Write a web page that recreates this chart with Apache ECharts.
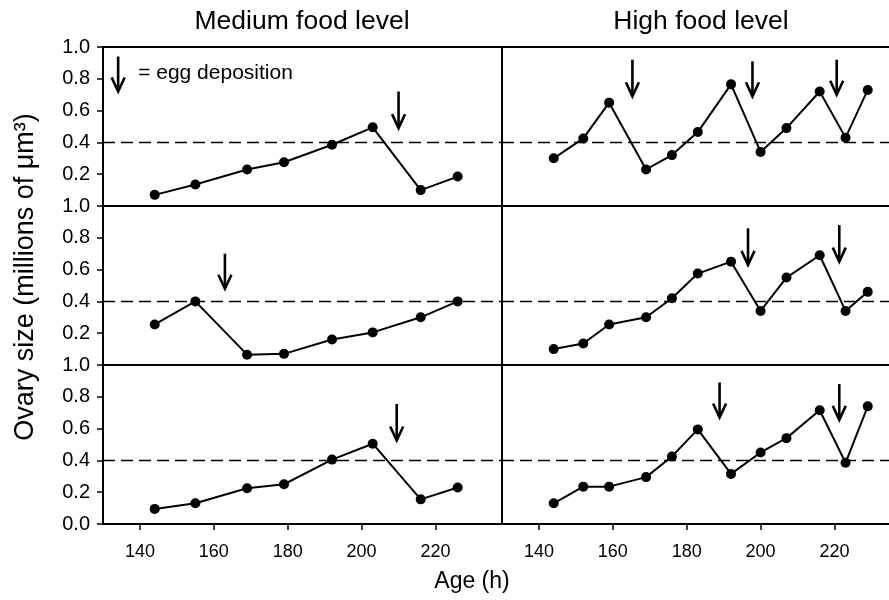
<!DOCTYPE html>
<html>
<head>
<meta charset="utf-8">
<script src="https://cdn.jsdelivr.net/npm/echarts@6/dist/echarts.min.js"></script>
<style>
  html, body { margin: 0; padding: 0; background: #fff; }
  #chart { width: 889px; height: 600px; }
</style>
</head>
<body>
<div id="chart"></div>
<script>
// Sampling ages (h)
const agesMedium = [144, 155, 169, 179, 192, 203, 216, 226];
const agesHigh = [144, 152, 159, 169, 176, 183, 192, 200, 207, 216, 223, 229];

// Ovary size (millions of µm³), three individuals per food level
const mediumA = [0.07, 0.135, 0.23, 0.275, 0.385, 0.495, 0.10, 0.185];
const mediumB = [0.255, 0.40, 0.065, 0.07, 0.16, 0.205, 0.30, 0.40];
const mediumC = [0.095, 0.13, 0.225, 0.25, 0.405, 0.505, 0.155, 0.23];
const highA = [0.30, 0.425, 0.65, 0.23, 0.32, 0.465, 0.765, 0.34, 0.49, 0.72, 0.43, 0.73];
const highB = [0.10, 0.135, 0.255, 0.30, 0.42, 0.575, 0.65, 0.34, 0.55, 0.69, 0.34, 0.46];
const highC = [0.13, 0.235, 0.235, 0.295, 0.425, 0.595, 0.315, 0.45, 0.54, 0.715, 0.385, 0.74];

// Egg deposition events: [age, arrow top, arrow tip]
const eggsMediumA = [[210, 0.72, 0.49]];
const eggsMediumB = [[163, 0.70, 0.48]];
const eggsMediumC = [[209.5, 0.755, 0.525]];
const eggsHighA = [[165.3, 0.92, 0.69], [197.8, 0.91, 0.69], [220.6, 0.92, 0.70]];
const eggsHighB = [[196.6, 0.86, 0.63], [221.3, 0.88, 0.65]];
const eggsHighC = [[188.9, 0.89, 0.67], [221.3, 0.88, 0.655]];
const keyArrow = [[134.1, 0.94, 0.72]];

const xTicks = [140, 160, 180, 200, 220];
const yTicksFull = [0, 0.2, 0.4, 0.6, 0.8, 1.0];
const yTicksUpper = [0.2, 0.4, 0.6, 0.8, 1.0];
const threshold = 0.4;

const FONT = '"Liberation Sans", Arial, Helvetica, sans-serif';

const panels = [
  { col: 0, row: 0, ages: agesMedium, vals: mediumA, eggs: eggsMediumA, key: true },
  { col: 0, row: 1, ages: agesMedium, vals: mediumB, eggs: eggsMediumB },
  { col: 0, row: 2, ages: agesMedium, vals: mediumC, eggs: eggsMediumC },
  { col: 1, row: 0, ages: agesHigh, vals: highA, eggs: eggsHighA },
  { col: 1, row: 1, ages: agesHigh, vals: highB, eggs: eggsHighB },
  { col: 1, row: 2, ages: agesHigh, vals: highC, eggs: eggsHighC }
];

// Column layout: the right column runs off the page edge
const cols = [
  { left: 103, width: 399, max: 238 },
  { left: 502, width: 387, max: 234.76 }
];
const gridTop = [47, 206, 365];
const gridH = 159;
const AXIS_LINE = { show: true, onZero: false, lineStyle: { color: '#000', width: 2 } };

function arrowItem(params, api) {
  const p1 = api.coord([api.value(0), api.value(1)]);
  const p2 = api.coord([api.value(0), api.value(2)]);
  return {
    type: 'group',
    children: [
      { type: 'line', shape: { x1: p1[0], y1: p1[1], x2: p2[0], y2: p2[1] - 1 },
        style: { stroke: '#000', lineWidth: 2.6 } },
      { type: 'polyline',
        shape: { points: [[p2[0] - 6.5, p2[1] - 14], [p2[0], p2[1]], [p2[0] + 6.5, p2[1] - 14]] },
        style: { stroke: '#000', fill: null, lineWidth: 2.6, lineJoin: 'miter' } }
    ]
  };
}

function keyItem(params, api) {
  const g = arrowItem(params, api);
  const p1 = api.coord([api.value(0), api.value(1)]);
  const p2 = api.coord([api.value(0), api.value(2)]);
  g.children.push({
    type: 'text',
    style: {
      text: '= egg deposition', x: p1[0] + 20, y: (p1[1] + p2[1]) / 2 - 1,
      font: '21px ' + FONT, fill: '#000', textAlign: 'left', textVerticalAlign: 'middle'
    }
  });
  return g;
}

const grid = [], xAxis = [], yAxis = [], series = [];
panels.forEach((p, i) => {
  const c = cols[p.col];
  const bottomRow = p.row === 2;
  grid.push({ left: c.left, top: gridTop[p.row], width: c.width, height: gridH, show: false });
  xAxis.push({
    type: 'value', gridIndex: i, min: 130, max: c.max, position: 'bottom',
    axisLine: AXIS_LINE,
    splitLine: { show: false },
    axisTick: { show: bottomRow, customValues: xTicks, length: 6,
      lineStyle: { color: '#000', width: 1.5 } },
    axisLabel: { show: bottomRow, customValues: xTicks, margin: 19,
      fontFamily: FONT, fontSize: 18, color: '#000' }
  });
  const yVals = bottomRow ? yTicksFull : yTicksUpper;
  yAxis.push({
    type: 'value', gridIndex: i, min: 0, max: 1,
    axisLine: AXIS_LINE,
    splitLine: { show: false },
    axisTick: { show: p.col === 0, customValues: yVals, length: 6,
      lineStyle: { color: '#000', width: 1.5 } },
    axisLabel: { show: p.col === 0, customValues: yVals, margin: 13,
      fontFamily: FONT, fontSize: 20, color: '#000',
      formatter: v => v.toFixed(1) }
  });
  series.push({
    type: 'line', xAxisIndex: i, yAxisIndex: i,
    data: p.ages.map((a, k) => [a, p.vals[k]]),
    symbol: 'circle', symbolSize: 10,
    lineStyle: { color: '#000', width: 2 },
    itemStyle: { color: '#000' },
    animation: false, silent: true,
    markLine: {
      silent: true, symbol: 'none', label: { show: false },
      lineStyle: { color: '#000', width: 1.3, type: [12, 6] },
      data: [{ yAxis: threshold }]
    }
  });
  series.push({
    type: 'custom', xAxisIndex: i, yAxisIndex: i,
    data: p.eggs, renderItem: arrowItem, animation: false, silent: true
  });
  if (p.key) {
    series.push({
      type: 'custom', xAxisIndex: i, yAxisIndex: i,
      data: keyArrow, renderItem: keyItem, animation: false, silent: true
    });
  }
});

// Top frame lines of the upper panels
[0, 3].forEach(gi => {
  xAxis.push({
    type: 'value', gridIndex: gi, min: 130, max: cols[gi === 0 ? 0 : 1].max, position: 'top',
    axisLine: AXIS_LINE, splitLine: { show: false },
    axisTick: { show: false }, axisLabel: { show: false }
  });
});

const chart = echarts.init(document.getElementById('chart'), null, { renderer: 'canvas' });
chart.setOption({
  backgroundColor: '#fff',
  animation: false,
  grid, xAxis, yAxis, series,
  graphic: [
    { type: 'text', x: 302, y: 22,
      style: { text: 'Medium food level', font: '26.5px ' + FONT, fill: '#000',
        textAlign: 'center', textVerticalAlign: 'middle' } },
    { type: 'text', x: 701, y: 22,
      style: { text: 'High food level', font: '26.5px ' + FONT, fill: '#000',
        textAlign: 'center', textVerticalAlign: 'middle' } },
    { type: 'text', x: 472, y: 582,
      style: { text: 'Age (h)', font: '23px ' + FONT, fill: '#000',
        textAlign: 'center', textVerticalAlign: 'middle' } },
    { type: 'text', x: 26, y: 277, rotation: Math.PI / 2,
      style: { text: 'Ovary size (millions of μm³)', font: '27px ' + FONT, fill: '#000',
        textAlign: 'center', textVerticalAlign: 'middle' } }
  ]
});
</script>
</body>
</html>
